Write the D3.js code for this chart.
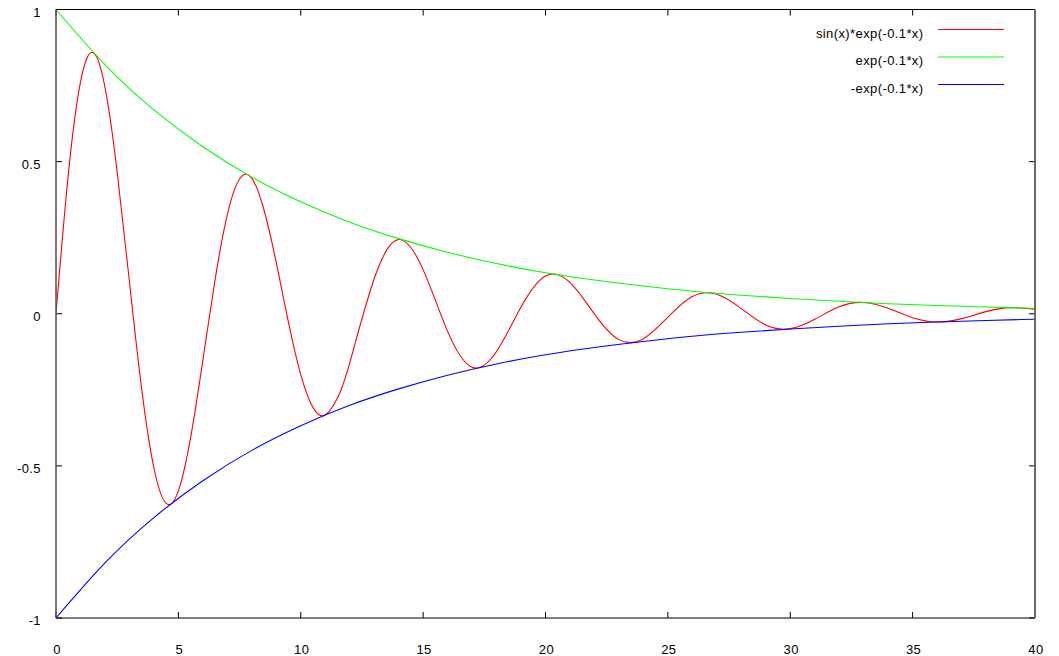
<!DOCTYPE html>
<html>
<head>
<meta charset="utf-8">
<script src="https://cdn.jsdelivr.net/npm/d3@7"></script>
<style>
  body { margin: 0; background: #fff; }
  text { font-family: "Liberation Sans", Arial, sans-serif; font-size: 13px; letter-spacing: 0.4px; fill: #000; }
</style>
</head>
<body>
<script>
// values
const dampX = [0, 0.5, 1, 1.5, 2, 2.5, 3, 3.5, 4, 4.5, 5, 5.5, 6, 6.5, 7, 7.5, 8, 8.5, 9, 9.5,
  10, 10.5, 11, 11.5, 12, 13, 14, 15, 16, 17, 18, 19, 20, 21, 22, 23, 24, 25, 26, 27, 28, 29,
  30, 31, 32, 33, 34, 35, 36, 37, 38, 39, 40];
const dampY = [0, 0.456, 0.761, 0.859, 0.745, 0.466, 0.105, -0.247, -0.507, -0.623, -0.582, -0.407,
  -0.153, 0.112, 0.326, 0.443, 0.445, 0.341, 0.168, -0.029, -0.200, -0.308, -0.333, -0.277,
  -0.162, 0.115, 0.244, 0.145, -0.058, -0.176, -0.124, 0.022, 0.124, 0.103, -0.001, -0.085,
  -0.082, -0.011, 0.057, 0.064, 0.017, -0.037, -0.049, -0.018, 0.023, 0.037, 0.018, -0.013,
  -0.027, -0.016, 0.007, 0.020, 0.014];

const envX = [0, 2, 4, 6, 8, 10, 12, 14, 16, 18, 20, 22, 24, 26, 28, 30, 32, 34, 36, 38, 40];
const upperY = [1, 0.819, 0.670, 0.549, 0.449, 0.368, 0.301, 0.247, 0.202, 0.165, 0.135, 0.111,
  0.091, 0.074, 0.061, 0.050, 0.041, 0.033, 0.027, 0.022, 0.018];
const lowerY = [-1, -0.819, -0.670, -0.549, -0.449, -0.368, -0.301, -0.247, -0.202, -0.165, -0.135,
  -0.111, -0.091, -0.074, -0.061, -0.050, -0.041, -0.033, -0.027, -0.022, -0.018];

const xTicks = [0, 5, 10, 15, 20, 25, 30, 35, 40];
const yTicks = [-1, -0.5, 0, 0.5, 1];

const series = [
  { name: "sin(x)*exp(-0.1*x)", xs: dampX, ys: dampY, color: "#ff0000" },
  { name: "exp(-0.1*x)", xs: envX, ys: upperY, color: "#00ff00" },
  { name: "-exp(-0.1*x)", xs: envX, ys: lowerY, color: "#0000ff" }
];

const w = 1059, h = 656;
const plotL = 56, plotR = 1035, plotT = 9.5, plotB = 618;

const svg = d3.select("body").append("svg").attr("width", w).attr("height", h);

const x = d3.scaleLinear().domain([0, 40]).range([plotL, plotR]);
const y = d3.scaleLinear().domain([-1, 1]).range([plotB, plotT]);

svg.append("clipPath").attr("id", "clip")
  .append("rect").attr("x", plotL).attr("y", plotT).attr("width", plotR - plotL).attr("height", plotB - plotT);

// curves
const line = d3.line().x(d => x(d[0])).y(d => y(d[1])).curve(d3.curveNatural);
svg.append("g").attr("clip-path", "url(#clip)")
  .selectAll("path")
  .data(series)
  .enter().append("path")
  .attr("d", s => line(s.xs.map((v, i) => [v, s.ys[i]])))
  .attr("fill", "none")
  .attr("stroke", s => s.color)
  .attr("stroke-width", 1.1);

// ticks, mirrored like gnuplot
const tl = 6;
const axes = svg.append("g").attr("stroke", "#000").attr("stroke-width", 1);
axes.selectAll(".xt").data(xTicks).enter().append("path")
  .attr("d", d => `M${x(d)},${plotB}v${-tl}M${x(d)},${plotT}v${tl}`);
axes.selectAll(".yt").data(yTicks).enter().append("path")
  .attr("d", d => `M${plotL},${y(d)}h${tl}M${plotR},${y(d)}h${-tl}`);

// frame
svg.append("line").attr("x1", plotL).attr("x2", plotR).attr("y1", plotT).attr("y2", plotT)
  .attr("stroke", "#000").attr("stroke-width", 1.2);
svg.append("line").attr("x1", plotL).attr("x2", plotR).attr("y1", plotB).attr("y2", plotB)
  .attr("stroke", "#000").attr("stroke-width", 1.2);
svg.append("line").attr("x1", plotL).attr("x2", plotL).attr("y1", plotT).attr("y2", plotB)
  .attr("stroke", "#555").attr("stroke-width", 1.6);
svg.append("line").attr("x1", plotR).attr("x2", plotR).attr("y1", plotT).attr("y2", plotB)
  .attr("stroke", "#6a6a6a").attr("stroke-width", 2);

// tick labels
svg.selectAll(".xl").data(xTicks).enter().append("text")
  .attr("x", d => x(d) + 1)
  .attr("y", 654)
  .attr("text-anchor", "middle")
  .text(d => d);
svg.selectAll(".yl").data(yTicks).enter().append("text")
  .attr("x", 41)
  .attr("y", d => y(d) + 7)
  .attr("text-anchor", "end")
  .text(d => d);

// legend
const leg = svg.selectAll(".leg").data(series).enter().append("g")
  .attr("transform", (d, i) => "translate(0," + (29.5 + i * 27.5) + ")");
leg.append("text")
  .attr("x", 923.5).attr("y", 8)
  .attr("text-anchor", "end")
  .text(d => d.name);
leg.append("line")
  .attr("x1", 938).attr("x2", 1004)
  .attr("stroke", d => d.color)
  .attr("stroke-width", 1.1);
</script>
</body>
</html>
